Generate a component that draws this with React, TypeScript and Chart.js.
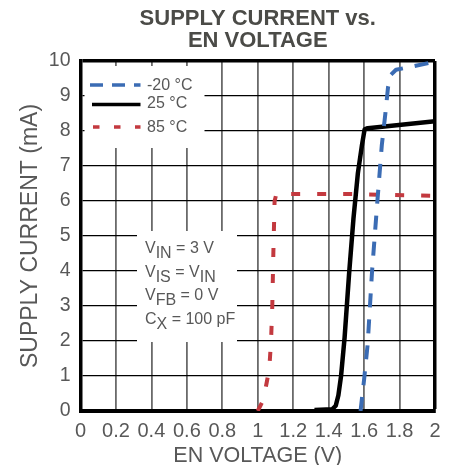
import React, { useEffect, useRef } from 'react';
import { Chart, registerables } from 'chart.js';

Chart.register(...registerables);

// ---- data ----
const seriesNames = ['-20 °C', '25 °C', '85 °C'];
const seriesColors = ['#3b6cb4', '#000000', '#c3393f'];

const coldV = [1.58, 1.6, 1.62, 1.645, 1.675, 1.7, 1.72, 1.735, 1.75, 1.78, 1.85, 2.0];
const coldI = [0, 0.9, 1.9, 4.0, 6.0, 7.6, 8.5, 9.25, 9.6, 9.75, 9.82, 9.98];

const roomV = [1.32, 1.42, 1.44, 1.455, 1.47, 1.49, 1.515, 1.54, 1.565, 1.588, 1.603, 1.62, 2.0];
const roomI = [0.03, 0.05, 0.15, 0.45, 1.0, 2.1, 3.9, 5.5, 6.8, 7.6, 8.05, 8.08, 8.28];

const hotV = [1.0, 1.03, 1.05, 1.065, 1.075, 1.082, 1.088, 1.095, 1.105, 1.5, 2.0];
const hotI = [0, 0.3, 0.8, 1.2, 2.0, 3.0, 4.5, 6.0, 6.2, 6.2, 6.15];

const xTickLabels = ['0', '0.2', '0.4', '0.6', '0.8', '1', '1.2', '1.4', '1.6', '1.8', '2'];
const yTickLabels = ['0', '1', '2', '3', '4', '5', '6', '7', '8', '9', '10'];

const titleLines = ['SUPPLY CURRENT vs.', 'EN VOLTAGE'];
const xAxisTitle = 'EN VOLTAGE (V)';
const yAxisTitle = 'SUPPLY CURRENT (mA)';

// condition lines: [text, isSubscript]
const conditionLines: [string, boolean][][] = [
  [['V', false], ['IN', true], [' = 3 V', false]],
  [['V', false], ['IS', true], [' = V', false], ['IN', true]],
  [['V', false], ['FB', true], [' = 0 V', false]],
  [['C', false], ['X', true], [' = 100 pF', false]],
];

const FONT = "'Liberation Sans', Arial, Helvetica, sans-serif";
const TEXT_GRAY = '#585858';

const toPoints = (xs: number[], ys: number[]) => xs.map((x, i) => ({ x, y: ys[i] }));

const overlayPlugin = {
  id: 'overlay',
  beforeDatasetsDraw(chart: any) {
    const { ctx, chartArea: a } = chart;
    ctx.save();
    ctx.fillStyle = '#ffffff';
    // legend backdrop
    ctx.fillRect(a.left + 4, a.top + 5, 120, 82);
    // conditions backdrop
    ctx.fillRect(a.left + 56.5, a.top + 170, 100, 111);
    ctx.restore();
  },
  afterDraw(chart: any) {
    const { ctx, chartArea: a } = chart;
    ctx.save();
    // title
    const cx = (a.left + a.right) / 2;
    ctx.font = `bold 22px ${FONT}`;
    ctx.fillStyle = '#4b4b47';
    ctx.textAlign = 'center';
    ctx.textBaseline = 'alphabetic';
    ctx.fillText(titleLines[0], cx, a.top - 36);
    ctx.fillText(titleLines[1], cx, a.top - 14);

    // legend
    const lineY = [a.top + 24, a.top + 43.5, a.top + 66];
    const textY = [a.top + 29, a.top + 47, a.top + 71];
    const dashes = [[13, 9], [], [6.5, 14.5]];
    const x0 = [a.left + 9.5, a.left + 11.5, a.left + 12.5];
    ctx.lineCap = 'butt';
    for (let i = 0; i < 3; i++) {
      ctx.beginPath();
      ctx.setLineDash(dashes[i]);
      ctx.strokeStyle = seriesColors[i];
      ctx.lineWidth = 3.5;
      ctx.moveTo(x0[i], lineY[i]);
      ctx.lineTo(a.left + 60, lineY[i]);
      ctx.stroke();
    }
    ctx.setLineDash([]);
    ctx.font = `16px ${FONT}`;
    ctx.fillStyle = TEXT_GRAY;
    ctx.textAlign = 'left';
    for (let i = 0; i < 3; i++) {
      ctx.fillText(seriesNames[i], a.left + 66.5, textY[i]);
    }

    // conditions
    const baseY = [a.top + 192, a.top + 216, a.top + 239, a.top + 262.5];
    conditionLines.forEach((segs, li) => {
      let x = a.left + 64.5;
      segs.forEach(([t, sub]) => {
        ctx.fillText(t, x, baseY[li] + (sub ? 5 : 0));
        x += ctx.measureText(t).width;
      });
    });
    ctx.restore();
  },
};

export default function App() {
  const ref = useRef<HTMLCanvasElement>(null);

  useEffect(() => {
    const canvas = ref.current;
    if (!canvas) return;
    Chart.defaults.font.family = FONT;
    const isVal = (c: any, v: number) => c.tick && Math.abs(c.tick.value - v) < 1e-6;
    const chart = new Chart(canvas, {
      type: 'line',
      data: {
        datasets: [
          {
            label: seriesNames[0],
            data: toPoints(coldV, coldI),
            borderColor: seriesColors[0],
            borderWidth: 4,
            borderDash: [14, 12],
          },
          {
            label: seriesNames[1],
            data: toPoints(roomV, roomI),
            borderColor: seriesColors[1],
            borderWidth: 4.5,
          },
          {
            label: seriesNames[2],
            data: toPoints(hotV, hotI),
            borderColor: seriesColors[2],
            borderWidth: 4,
            borderDash: [9, 17],
          },
        ].map((d) => ({
          ...d,
          pointRadius: 0,
          fill: false,
          tension: 0,
          borderCapStyle: 'butt' as const,
          borderJoinStyle: 'round' as const,
        })),
      },
      options: {
        animation: false,
        responsive: true,
        maintainAspectRatio: false,
        layout: { padding: { top: 61, right: 21, left: 0, bottom: 0 } },
        plugins: {
          legend: { display: false },
          title: { display: false },
          tooltip: { enabled: false },
        },
        scales: {
          x: {
            type: 'linear',
            min: 0,
            max: 2,
            afterFit: (s: any) => {
              s.height = 54;
            },
            ticks: {
              stepSize: 0.2,
              autoSkip: false,
              maxRotation: 0,
              padding: 8,
              color: TEXT_GRAY,
              font: { size: 20 },
              callback: (v: any) => xTickLabels[Math.round(Number(v) / 0.2)] ?? '',
            },
            grid: {
              drawTicks: false,
              color: (c: any) => (isVal(c, 2) ? '#000' : '#6a6a6a'),
              lineWidth: (c: any) => (isVal(c, 2) ? 3.5 : 1.8),
            },
            border: { display: true, color: '#000', width: 4 },
            title: {
              display: true,
              text: xAxisTitle,
              color: TEXT_GRAY,
              font: { size: 21.5, lineHeight: 0.8 },
              padding: { top: 0, bottom: 0 },
            },
          },
          y: {
            type: 'linear',
            min: 0,
            max: 10,
            afterFit: (s: any) => {
              s.width = 80.5;
            },
            ticks: {
              stepSize: 1,
              padding: 10,
              color: TEXT_GRAY,
              font: { size: 19.5 },
              callback: (v: any) => yTickLabels[Math.round(Number(v))] ?? '',
            },
            grid: {
              drawTicks: false,
              color: '#000',
              lineWidth: (c: any) => (isVal(c, 10) ? 3.5 : 1.3),
            },
            border: { display: true, color: '#000', width: 3.5 },
            title: {
              display: true,
              text: yAxisTitle,
              color: TEXT_GRAY,
              font: { size: 23, lineHeight: 1 },
              padding: { top: 19.5, bottom: 0 },
            },
          },
        },
      },
      plugins: [overlayPlugin],
    } as any);
    return () => chart.destroy();
  }, []);

  return (
    <div style={{ position: 'fixed', left: 0, top: 0, width: 456, height: 465, background: '#fff' }}>
      <canvas ref={ref} />
    </div>
  );
}
